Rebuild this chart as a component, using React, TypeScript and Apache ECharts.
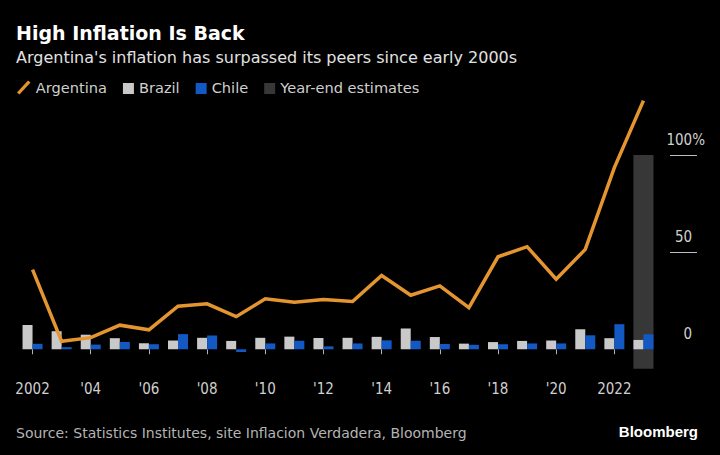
import React, { useEffect, useRef } from "react";
import * as echarts from "echarts";

const years = [
  "2002", "2003", "2004", "2005", "2006", "2007", "2008", "2009", "2010", "2011", "2012",
  "2013", "2014", "2015", "2016", "2017", "2018", "2019", "2020", "2021", "2022", "2023",
];
const xTickLabels = [
  "2002", "", "'04", "", "'06", "", "'08", "", "'10", "", "'12",
  "", "'14", "", "'16", "", "'18", "", "'20", "", "2022", "",
];
const argentina = [41, 4.1, 6, 12.4, 10, 22.2, 23.4, 16.8, 26, 24.2, 25.6, 24.6, 38, 27.8, 32.6, 21.4, 47.6, 52.8, 36.1, 51.4, 93.5, 128];
const brazil = [12.5, 9.3, 7.5, 5.7, 3.1, 4.5, 5.9, 4.3, 5.9, 6.5, 5.8, 5.9, 6.4, 10.7, 6.3, 2.9, 3.7, 4.3, 4.5, 10.3, 5.7, 4.8];
const chile = [2.8, 1.1, 2.4, 3.7, 2.6, 7.8, 7.1, -1.4, 3.0, 4.4, 1.5, 3.0, 4.6, 4.4, 2.7, 2.3, 2.6, 3.0, 3.0, 7.2, 12.9, 7.7];
const estimateYears = ["2023"];
const estimateTop = [100];
const estimateBottom = [-10];
const yTickValues = [0, 50, 100];
const yTickLabels = ["0", "50", "100"];
const yMin = -10;
const yMax = 130;

const titleText = "High Inflation Is Back";
const subtitleText = "Argentina's inflation has surpassed its peers since early 2000s";
const sourceText = "Source: Statistics Institutes, site Inflacion Verdadera, Bloomberg";
const brandText = "Bloomberg";

const ORANGE = "#e5952f";
const GRAY = "#c9c9c9";
const BLUE = "#1259c3";
const BAND = "#373737";
const FONT = "DejaVu Sans";
const AXIS_FONT = '"DejaVu Sans Condensed", "DejaVu Sans"';

const SQUARE_ICON = "path://M0,0L0,0M14,14L14,14M3,2.5L14,2.5L14,13.5L3,13.5Z";
const SLASH_ICON = "path://M0,12L11,0L13.5,2L2.5,14Z";

export default function App() {
  const ref = useRef<HTMLDivElement>(null);

  useEffect(() => {
    document.body.style.margin = "0";
    document.body.style.background = "#000";
    const chart = echarts.init(ref.current!, undefined, { renderer: "svg" });
    const lastY = yTickValues.length - 1;
    const option: any = {
      animation: false,
      backgroundColor: "#000",
      title: [
        {
          text: titleText, left: 16, top: 21, padding: 0,
          textStyle: { color: "#ffffff", fontSize: 19, fontWeight: "bold", fontFamily: FONT, lineHeight: 24 },
        },
        {
          text: subtitleText, left: 16, top: 47, padding: 0,
          textStyle: { color: "#e2e2e2", fontSize: 16, fontWeight: "normal", fontFamily: FONT, lineHeight: 20 },
        },
        {
          text: sourceText, left: 16, top: 424, padding: 0,
          textStyle: { color: "#b4b4b4", fontSize: 14, fontWeight: "normal", fontFamily: FONT, lineHeight: 18 },
        },
        {
          text: brandText, right: 22, top: 422, padding: 0,
          textStyle: { color: "#ffffff", fontSize: 15, fontWeight: "bold", fontFamily: "Liberation Sans", lineHeight: 18 },
        },
      ],
      legend: {
        left: 17, top: 80, padding: 0, itemWidth: 14, itemHeight: 14, itemGap: 13,
        itemStyle: { borderWidth: 0 },
        textStyle: { color: "#cfcfcf", fontSize: 14.6, fontFamily: FONT },
        data: [
          { name: "Argentina", icon: SLASH_ICON },
          { name: "Brazil", icon: SQUARE_ICON },
          { name: "Chile", icon: SQUARE_ICON },
          { name: "Year-end estimates", icon: SQUARE_ICON },
        ],
      },
      grid: [
        { left: 18, width: 640, top: 96.7, height: 272 },
        { left: 670, width: 27, top: 96.7, height: 272 },
      ],
      xAxis: [
        {
          type: "category", gridIndex: 0, data: years,
          axisLine: { show: false },
          axisTick: { show: true, alignWithLabel: true, interval: 1, length: 5, lineStyle: { color: "#b0b0b0" } },
          axisLabel: {
            interval: 1, margin: 13, color: "#d0d0d0", fontSize: 15, fontFamily: AXIS_FONT,
            formatter: (_v: string, i: number) => xTickLabels[i],
          },
          splitLine: { show: false },
        },
        { type: "value", gridIndex: 1, show: false, min: 0, max: 1 },
      ],
      yAxis: [
        { type: "value", gridIndex: 0, min: yMin, max: yMax, splitNumber: 3, show: false },
        {
          type: "value", gridIndex: 1, position: "right", min: yMin, max: yMax, splitNumber: 3,
          axisLine: { show: false },
          axisTick: { show: false },
          splitLine: {
            show: true, showMinLine: false, showMaxLine: false,
            lineStyle: { color: ["rgba(0,0,0,0)", "#bdbdbd", "#bdbdbd", "#bdbdbd", "rgba(0,0,0,0)"], width: 1 },
          },
          axisLabel: {
            inside: true, align: "right", verticalAlign: "middle", margin: -8,
            padding: [0, 0, 30, 0], showMinLabel: false, showMaxLabel: false,
            color: "#d0d0d0", fontSize: 15, fontFamily: AXIS_FONT,
            formatter: (v: number) => {
              const i = yTickValues.indexOf(v);
              if (i < 0) return "";
              return i === lastY ? `{n|${yTickLabels[i]}}{p|%}` : `{n|${yTickLabels[i]}}{h|%}`;
            },
            rich: {
              n: { color: "#d0d0d0", fontSize: 15, fontFamily: AXIS_FONT },
              p: { color: "#d0d0d0", fontSize: 15, fontFamily: AXIS_FONT },
              h: { color: "rgba(0,0,0,0)", fontSize: 15, fontFamily: AXIS_FONT },
            },
          },
        },
      ],
      series: [
        {
          type: "custom", name: "Year-end estimates", xAxisIndex: 0, yAxisIndex: 0, z: 1,
          itemStyle: { color: BAND },
          data: estimateYears.map((y, i) => [years.indexOf(y), estimateTop[i], estimateBottom[i]]),
          encode: { x: 0, y: [1, 2] },
          renderItem: (_p: any, api: any) => {
            const idx = api.value(0);
            const top = api.coord([idx, api.value(1)]);
            const bot = api.coord([idx, api.value(2)]);
            const w = api.size([1, 0])[0] * 0.69;
            return {
              type: "rect",
              shape: { x: top[0] - w / 2, y: top[1], width: w, height: bot[1] - top[1] },
              style: { fill: BAND },
            };
          },
        },
        {
          type: "bar", name: "Brazil", data: brazil, barWidth: 10, barGap: "0%", z: 2,
          itemStyle: { color: GRAY },
        },
        {
          type: "bar", name: "Chile", data: chile, barWidth: 10, barGap: "0%", z: 2,
          itemStyle: { color: BLUE },
        },
        {
          type: "line", name: "Argentina", data: argentina, z: 3, showSymbol: false, symbol: "none",
          lineStyle: { color: ORANGE, width: 3.5, join: "miter" },
          itemStyle: { color: ORANGE },
        },
      ],
    };
    chart.setOption(option);
    return () => chart.dispose();
  }, []);

  return (
    <div
      ref={ref}
      style={{ position: "fixed", left: 0, top: 0, width: 720, height: 455, background: "#000" }}
    />
  );
}
